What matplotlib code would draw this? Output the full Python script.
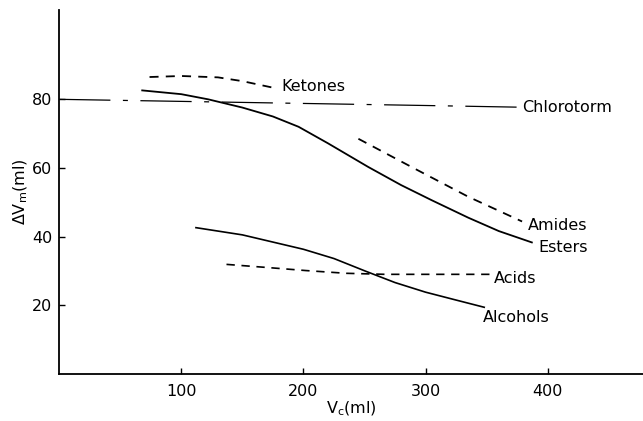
import matplotlib
matplotlib.use("Agg")
import matplotlib.pyplot as plt

plt.rcParams['font.family'] = ['DejaVu Sans']
plt.rcParams['mathtext.fontset'] = 'dejavusans'

# Series: (Vc in ml, delta Vm in ml)
ketones_x = [74, 100, 130, 150, 175]
ketones_y = [86.5, 86.8, 86.4, 85.3, 83.4]

chloroform_x = [0, 100, 200, 300, 378]
chloroform_y = [80.0, 79.4, 78.8, 78.2, 77.7]

esters_x = [68, 100, 122, 150, 175, 196, 220, 253, 280, 305, 335, 360, 387]
esters_y = [82.6, 81.5, 80.0, 77.6, 75.0, 72.0, 67.2, 60.3, 55.0, 50.6, 45.5, 41.6, 38.3]

amides_x = [245, 290, 335, 379]
amides_y = [68.5, 60.0, 51.6, 44.4]

alcohols_x = [112, 150, 200, 225, 251, 275, 300, 325, 348]
alcohols_y = [42.6, 40.5, 36.3, 33.6, 29.9, 26.6, 23.8, 21.5, 19.4]

acids_x = [137, 170, 202, 235, 267, 353]
acids_y = [31.9, 31.0, 30.1, 29.3, 29.0, 29.0]

x_ticks = [100, 200, 300, 400]
y_ticks = [20, 40, 60, 80]

fig = plt.figure(figsize=(6.43, 4.21), dpi=100)
ax = fig.add_axes([0.092, 0.112, 0.908, 0.864])

dashed = (0, (5, 4))
dashdot = (0, (41, 10, 4, 10))

ax.plot(ketones_x, ketones_y, color='black', lw=1.3, linestyle=dashed)
ax.plot(chloroform_x, chloroform_y, color='black', lw=0.9, linestyle=dashdot)
ax.plot(esters_x, esters_y, color='black', lw=1.3)
ax.plot(amides_x, amides_y, color='black', lw=1.3, linestyle=dashed)
ax.plot(alcohols_x, alcohols_y, color='black', lw=1.2)
ax.plot(acids_x, acids_y, color='black', lw=1.2, linestyle=dashed)

label_kw = dict(ha='left', va='center', fontsize=11.5, color='black')
ax.text(182, 83.6, "Ketones", **label_kw)
ax.text(379, 77.7, "Chlorotorm", **label_kw)
ax.text(384, 43.2, "Amides", **label_kw)
ax.text(392, 36.8, "Esters", **label_kw)
ax.text(356, 27.8, "Acids", **label_kw)
ax.text(347, 16.5, "Alcohols", **label_kw)

ax.set_xlim(0, 478)
ax.set_ylim(0, 106)
ax.set_xticks(x_ticks)
ax.set_yticks(y_ticks)
ax.tick_params(direction='in', length=4, width=1, labelsize=11.5)
ax.tick_params(axis='x', pad=7)
ax.tick_params(axis='y', pad=5)

for side in ('top', 'right'):
    ax.spines[side].set_visible(False)
for side in ('left', 'bottom'):
    ax.spines[side].set_linewidth(1.3)

ax.set_xlabel(r"V$_\mathrm{c}$(ml)", fontsize=11.5, labelpad=1)
ax.set_ylabel(r"$\Delta$V$_\mathrm{m}$(ml)", fontsize=11.5, labelpad=1)

fig.savefig("out.png", dpi=100)
